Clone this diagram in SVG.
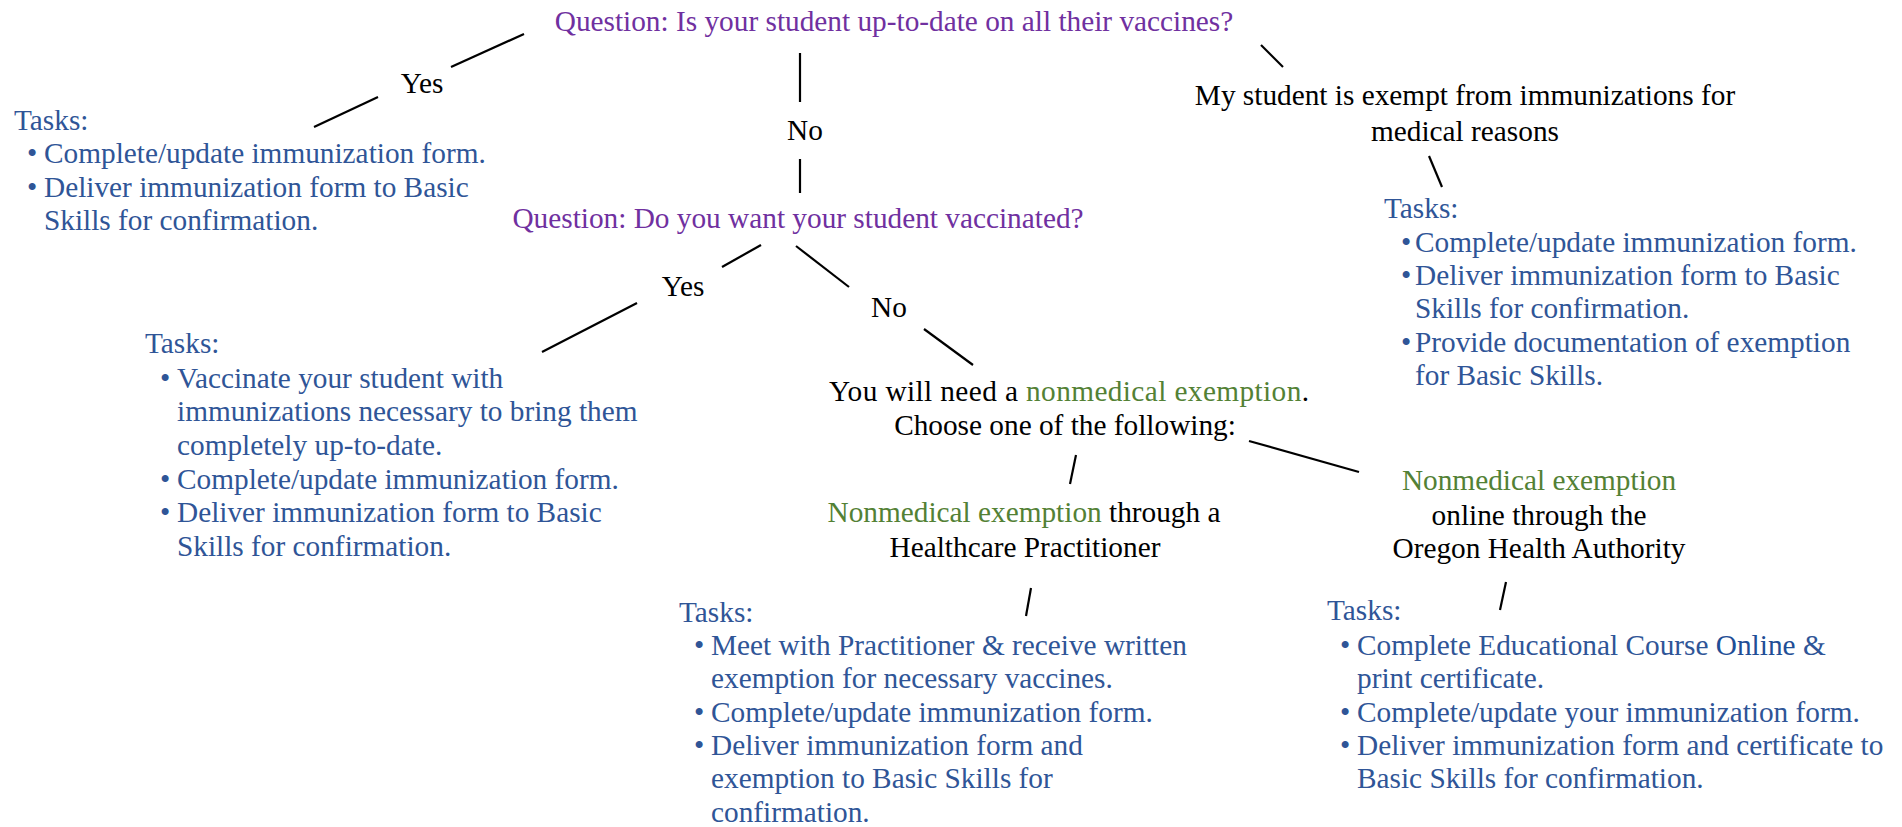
<svg xmlns="http://www.w3.org/2000/svg" width="1902" height="827" viewBox="0 0 1902 827">
<style>
text{font-family:"Liberation Serif","Times New Roman",serif;font-size:29.3px;}
.q{fill:#7030A0;}
.k{fill:#000;}
.t{fill:#2F5597;}
.g{fill:#538135;}
.m{text-anchor:middle;}
.ln{stroke:#000;stroke-width:2.2;fill:none;}
</style>
<rect width="1902" height="827" fill="#fff"/>
<g id="connectors">
<line class="ln" x1="524" y1="34" x2="451" y2="67"/>
<line class="ln" x1="378" y1="97" x2="314" y2="127"/>
<line class="ln" x1="800" y1="53" x2="800" y2="102"/>
<line class="ln" x1="800" y1="159" x2="800" y2="193"/>
<line class="ln" x1="1261" y1="45" x2="1283" y2="67"/>
<line class="ln" x1="1429" y1="156" x2="1442" y2="187"/>
<line class="ln" x1="761" y1="245" x2="722" y2="267"/>
<line class="ln" x1="637" y1="303" x2="542" y2="352"/>
<line class="ln" x1="796" y1="246" x2="849" y2="287"/>
<line class="ln" x1="924" y1="329" x2="973" y2="365"/>
<line class="ln" x1="1249" y1="441" x2="1359" y2="472"/>
<line class="ln" x1="1076" y1="455" x2="1070" y2="484"/>
<line class="ln" x1="1031" y1="588" x2="1026" y2="616"/>
<line class="ln" x1="1506" y1="582" x2="1500" y2="610"/>
</g>
<g id="q1"><text class="q m" x="894" y="31">Question: Is your student up-to-date on all their vaccines?</text></g>
<g id="yes1"><text class="k m" x="422" y="93">Yes</text></g>
<g id="no1"><text class="k m" x="805" y="140">No</text></g>
<g id="tasks-uptodate">
<text class="t" x="14" y="130">Tasks:</text>
<text class="t" x="27" y="163">•</text><text class="t" x="44" y="163">Complete/update immunization form.</text>
<text class="t" x="27" y="197">•</text><text class="t" x="44" y="197">Deliver immunization form to Basic</text>
<text class="t" x="44" y="230">Skills for confirmation.</text>
</g>
<g id="medical"><text class="k m" x="1465" y="105">My student is exempt from immunizations for</text>
<text class="k m" x="1465" y="141">medical reasons</text></g>
<g id="tasks-medical">
<text class="t" x="1384" y="218">Tasks:</text>
<text class="t" x="1401" y="252">•</text><text class="t" x="1415" y="252">Complete/update immunization form.</text>
<text class="t" x="1401" y="285">•</text><text class="t" x="1415" y="285">Deliver immunization form to Basic</text>
<text class="t" x="1415" y="318">Skills for confirmation.</text>
<text class="t" x="1401" y="352">•</text><text class="t" x="1415" y="352">Provide documentation of exemption</text>
<text class="t" x="1415" y="385">for Basic Skills.</text>
</g>
<g id="q2"><text class="q m" x="798" y="228">Question: Do you want your student vaccinated?</text></g>
<g id="yes2"><text class="k m" x="683" y="296">Yes</text></g>
<g id="no2"><text class="k m" x="889" y="317">No</text></g>
<g id="tasks-vaccinate">
<text class="t" x="145" y="353">Tasks:</text>
<text class="t" x="160" y="388">•</text><text class="t" x="177" y="388">Vaccinate your student with</text>
<text class="t" x="177" y="421">immunizations necessary to bring them</text>
<text class="t" x="177" y="455">completely up-to-date.</text>
<text class="t" x="160" y="489">•</text><text class="t" x="177" y="489">Complete/update immunization form.</text>
<text class="t" x="160" y="522">•</text><text class="t" x="177" y="522">Deliver immunization form to Basic</text>
<text class="t" x="177" y="556">Skills for confirmation.</text>
</g>
<g id="nonmedical"><text class="k m" x="1069" y="401" textLength="480" lengthAdjust="spacing">You will need a <tspan class="g">nonmedical exemption</tspan>.</text>
<text class="k m" x="1065" y="435">Choose one of the following:</text></g>
<g id="practitioner"><text class="k m" x="1024" y="522"><tspan class="g">Nonmedical exemption</tspan> through a</text>
<text class="k m" x="1025" y="557">Healthcare Practitioner</text></g>
<g id="tasks-practitioner">
<text class="t" x="679" y="622">Tasks:</text>
<text class="t" x="694" y="655">•</text><text class="t" x="711" y="655">Meet with Practitioner &amp; receive written</text>
<text class="t" x="711" y="688">exemption for necessary vaccines.</text>
<text class="t" x="694" y="722">•</text><text class="t" x="711" y="722">Complete/update immunization form.</text>
<text class="t" x="694" y="755">•</text><text class="t" x="711" y="755">Deliver immunization form and</text>
<text class="t" x="711" y="788">exemption to Basic Skills for</text>
<text class="t" x="711" y="822">confirmation.</text>
</g>
<g id="oha"><text class="g m" x="1539" y="490">Nonmedical exemption</text>
<text class="k m" x="1539" y="525">online through the</text>
<text class="k m" x="1539" y="558">Oregon Health Authority</text></g>
<g id="tasks-oha">
<text class="t" x="1327" y="620">Tasks:</text>
<text class="t" x="1340" y="655">•</text><text class="t" x="1357" y="655">Complete Educational Course <tspan fill="#1F4E96">Online</tspan> &amp;</text>
<text class="t" x="1357" y="688">print certificate.</text>
<text class="t" x="1340" y="722">•</text><text class="t" x="1357" y="722">Complete/update your immunization form.</text>
<text class="t" x="1340" y="755">•</text><text class="t" x="1357" y="755">Deliver immunization form and certificate to</text>
<text class="t" x="1357" y="788">Basic Skills for confirmation.</text>
</g>
</svg>
